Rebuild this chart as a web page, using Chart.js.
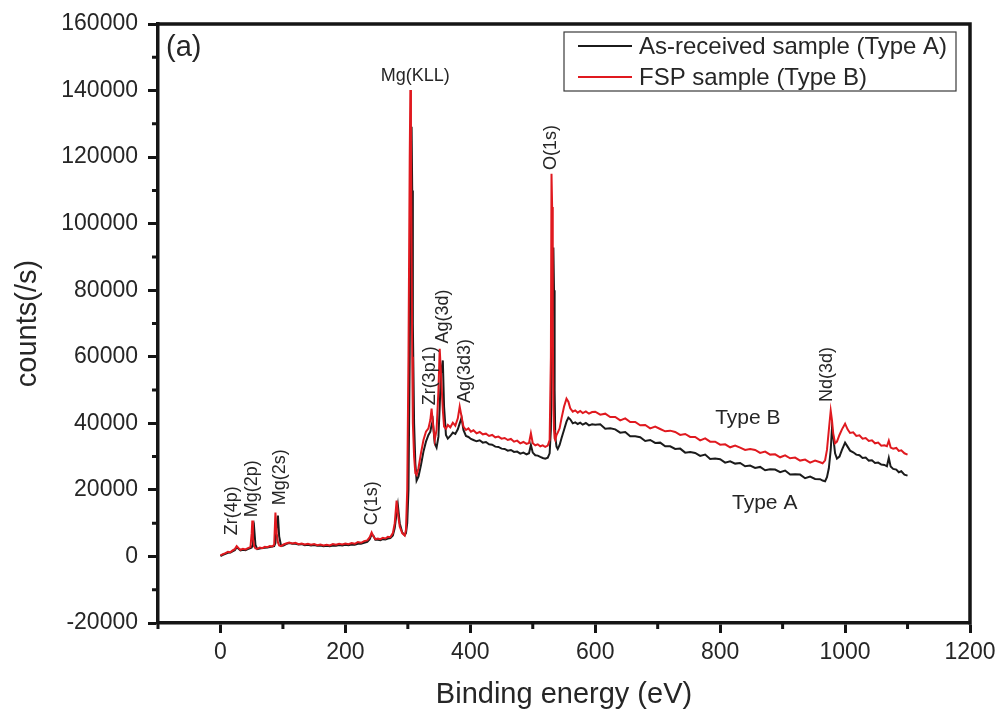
<!DOCTYPE html>
<html>
<head>
<meta charset="utf-8">
<title>XPS survey</title>
<script src="https://cdn.jsdelivr.net/npm/chart.js@4.4.1/dist/chart.umd.min.js"></script>
<style>
    html, body { margin: 0; padding: 0; background: #ffffff; }
    #chartXps { display: block; }
</style>
</head>
<body>
<canvas id="chartXps" width="998" height="718"></canvas>
<script>
// 1. DATA SPEKTRUM (binding energy dalam eV, intensitas dalam counts/s)
const energi = [
    0, 4, 8, 12, 16, 20, 23, 26, 29, 32,
    36, 40, 44, 48, 50, 51, 52, 54, 56, 59,
    63, 67, 71, 75, 79, 83, 86, 88, 90, 92,
    94, 97, 101, 105, 110, 115, 120, 125, 130, 135,
    140, 145, 150, 155, 160, 165, 170, 175, 180, 185,
    190, 195, 200, 205, 210, 215, 220, 225, 230, 235,
    239, 242, 245, 248, 252, 256, 260, 264, 268, 272,
    276, 279, 282, 284, 287, 291, 295, 297, 299, 301,
    303, 304, 305, 306, 307, 308, 310, 312, 314, 317,
    321, 325, 329, 333, 336, 338, 340, 343, 346, 349,
    351, 353, 356, 358, 361, 364, 368, 372, 376, 380,
    383, 386, 389, 393, 397, 401, 405, 410, 415, 420,
    425, 430, 435, 440, 445, 450, 455, 460, 465, 470,
    475, 480, 485, 490, 494, 497, 500, 504, 508, 512,
    516, 520, 524, 527, 529, 530, 531, 532, 533, 534,
    535, 536, 538, 540, 543, 546, 550, 554, 557, 560,
    564, 568, 572, 576, 580, 585, 590, 595, 600, 608,
    616, 624, 632, 640, 648, 656, 664, 672, 680, 688,
    696, 704, 712, 720, 728, 736, 744, 752, 760, 768,
    776, 784, 792, 800, 808, 816, 824, 832, 840, 848,
    856, 864, 872, 880, 888, 896, 904, 912, 920, 928,
    936, 944, 952, 960, 964, 968, 971, 974, 977, 979,
    981, 984, 987, 991, 995, 1000, 1004, 1008, 1013, 1018,
    1023, 1028, 1033, 1038, 1043, 1048, 1053, 1058, 1063, 1067,
    1070, 1073, 1077, 1082, 1086, 1090, 1095, 1100
];

// As-received sample (Type A)
const countsTypeA = [
    100, 500, 800, 1100, 1200, 1600, 1900, 2700, 2300, 1800,
    2000, 1900, 2200, 2500, 2700, 3200, 6000, 8400, 3500, 2200,
    2400, 2500, 2600, 2700, 2800, 3000, 3100, 4000, 9000, 12300,
    6000, 3200, 3300, 3700, 4000, 3800, 3800, 3600, 3700, 3400,
    3500, 3300, 3400, 3200, 3300, 3100, 3200, 3100, 3300, 3200,
    3400, 3300, 3500, 3400, 3600, 3500, 3800, 3800, 4100, 4400,
    5200, 6600, 6200, 5000, 5000, 4900, 5200, 5100, 5400, 5500,
    6300, 8500, 13000, 15500, 10000, 7200, 6400, 7000, 10000, 20000,
    60000, 95000, 120000, 129100, 110000, 70000, 40000, 28000, 22800, 24000,
    27500, 31500, 34500, 36500, 37500, 39500, 40800, 34000, 32700, 36000,
    45000, 55000, 58900, 45000, 36500, 35400, 36200, 37200, 36800, 38200,
    40000, 41700, 38000, 36200, 35900, 35300, 35000, 34600, 34900, 34200,
    34400, 33700, 33600, 33000, 32900, 32400, 32300, 31800, 32000, 31400,
    31500, 30900, 31200, 30700, 31000, 33500, 31200, 30400, 30300, 29900,
    29600, 29400, 29700, 31000, 38000, 55000, 75000, 88000, 92800, 80000,
    50000, 36000, 33000, 32300, 33500, 35500, 38000, 40500, 41700, 41200,
    40000, 40300, 39800, 40200, 39600, 40100, 39400, 39700, 39600, 39700,
    38400, 38500, 38200, 37200, 37400, 36100, 36100, 35800, 34700, 35000,
    34100, 34200, 33100, 33100, 32300, 32400, 31200, 31400, 31100, 30200,
    30600, 29300, 29400, 29200, 28200, 28600, 27900, 28100, 27100, 27300,
    26600, 26900, 25900, 26200, 26100, 25300, 25800, 24600, 24700, 24600,
    23500, 24000, 23300, 23200, 22800, 22600, 23800, 26500, 32000, 38400,
    36000, 31000, 29400, 30000, 32000, 34200, 33000, 31800, 31300, 30600,
    30400, 29600, 29700, 28800, 28900, 28100, 28200, 27600, 27500, 27100,
    29600, 27000, 26300, 26100, 25300, 25600, 24600, 24300
];

// FSP sample (Type B)
const countsTypeB = [
    300, 700, 1000, 1400, 1300, 1900, 2200, 3100, 2500, 2000,
    2300, 2100, 2500, 2800, 7000, 10800, 5500, 3000, 2400, 2300,
    2700, 2500, 2900, 2800, 3100, 3000, 3500, 13200, 7000, 4200,
    3300, 3100, 3600, 3900, 4200, 3900, 4100, 3700, 3900, 3600,
    3800, 3500, 3700, 3400, 3600, 3300, 3500, 3300, 3700, 3500,
    3800, 3600, 3900, 3700, 4000, 3800, 4300, 4100, 4600, 4800,
    5800, 7200, 6000, 5200, 5400, 5200, 5600, 5400, 5900, 5800,
    7000, 10000, 16800, 13000, 9000, 7000, 6300, 8000, 20000, 60000,
    120000, 140200, 125000, 90000, 60000, 40000, 30000, 25000, 24500, 26500,
    31000, 35000, 37500, 38500, 41000, 44400, 40000, 35000, 38000, 50000,
    62400, 55000, 44000, 39000, 38400, 39500, 38800, 40200, 39300, 41500,
    45000, 42000, 39000, 38000, 38500, 37500, 37900, 37000, 37400, 36700,
    36900, 36200, 36500, 35800, 36000, 35400, 35600, 35000, 35300, 34500,
    34800, 34000, 34400, 33800, 34100, 37000, 34000, 33400, 33700, 33100,
    33400, 32900, 33300, 35000, 60000, 115000, 105000, 70000, 45000, 38000,
    35500, 35000, 36500, 37200, 38500, 41500, 45000, 47400, 46500, 44500,
    43500, 43900, 43200, 43700, 43100, 43600, 42900, 43400, 43500, 42600,
    42900, 41900, 41900, 40900, 41500, 40400, 40400, 39400, 39500, 38500,
    39000, 38300, 37600, 37800, 37400, 36500, 36800, 35900, 35900, 34900,
    35500, 34500, 34500, 33600, 33700, 32800, 33300, 32700, 32000, 32300,
    32000, 31100, 31500, 30600, 30700, 29800, 30400, 29500, 29700, 28800,
    29100, 28200, 28800, 28300, 28000, 28900, 32000, 38000, 43800, 41000,
    37000, 34000, 34500, 36500, 38200, 39900, 38200, 37100, 37300, 36200,
    36400, 35400, 35600, 34700, 34900, 34000, 34200, 33300, 33400, 33100,
    34800, 32700, 32400, 32600, 31700, 31900, 31000, 30600
];

// Label tick sumbu
const energiTicks = [0, 200, 400, 600, 800, 1000, 1200];
const countTicks = [-20000, 0, 20000, 40000, 60000, 80000, 100000, 120000, 140000, 160000];

// Label puncak: teks vertikal, mulai dari titik (e, c)
const labelPuncak = [
    { teks: 'Zr(4p)', e: 18, c: 6400 },
    { teks: 'Mg(2p)', e: 50, c: 11800 },
    { teks: 'Mg(2s)', e: 95, c: 15400 },
    { teks: 'C(1s)', e: 242, c: 9400 },
    { teks: 'Zr(3p1)', e: 335, c: 45400 },
    { teks: 'Ag(3d)', e: 356, c: 64000 },
    { teks: 'Ag(3d3)', e: 391, c: 46100 },
    { teks: 'O(1s)', e: 529, c: 116100 },
    { teks: 'Nd(3d)', e: 971, c: 46400 }
];

const warnaA = '#1b1b1b';
const warnaB = '#e0191f';
const warnaSumbu = '#151515';
const warnaTeks = '#262626';
const FONT = "'Liberation Sans', Arial, Helvetica, sans-serif";

Chart.defaults.font.family = FONT;
Chart.defaults.color = warnaTeks;

// 2. PLUGIN: minor tick, bingkai atas/kanan, legenda dan anotasi
const dekorasi = {
    id: 'dekorasi',
    afterDraw(chart) {
        const { ctx, chartArea: a, scales: { x, y } } = chart;
        ctx.save();

        // minor tick
        ctx.strokeStyle = warnaSumbu;
        ctx.lineWidth = 3;
        ctx.beginPath();
        for (let e = -100; e <= 1100; e += 200) {
            const px = x.getPixelForValue(e);
            ctx.moveTo(px, a.bottom);
            ctx.lineTo(px, a.bottom + 6);
        }
        for (let c = -10000; c <= 150000; c += 20000) {
            const py = y.getPixelForValue(c);
            ctx.moveTo(a.left, py);
            ctx.lineTo(a.left - 6, py);
        }
        ctx.stroke();

        // bingkai atas dan kanan
        ctx.lineWidth = 3.5;
        ctx.beginPath();
        ctx.moveTo(a.left - 1.5, a.top);
        ctx.lineTo(a.right, a.top);
        ctx.lineTo(a.right, a.bottom + 1.5);
        ctx.stroke();

        // legenda
        const lx = a.right - 406, ly = a.top + 8;
        ctx.lineWidth = 1.2;
        ctx.strokeStyle = '#3a3a3a';
        ctx.strokeRect(lx, ly, 392, 59);
        const itemLegenda = [
            { teks: 'As-received sample (Type A)', warna: warnaA, dy: 14 },
            { teks: 'FSP sample (Type B)', warna: warnaB, dy: 45 }
        ];
        ctx.font = `24px ${FONT}`;
        ctx.textAlign = 'left';
        ctx.textBaseline = 'middle';
        itemLegenda.forEach(it => {
            ctx.strokeStyle = it.warna;
            ctx.lineWidth = 2;
            ctx.beginPath();
            ctx.moveTo(lx + 14, ly + it.dy);
            ctx.lineTo(lx + 68, ly + it.dy);
            ctx.stroke();
            ctx.fillStyle = warnaTeks;
            ctx.fillText(it.teks, lx + 75, ly + it.dy + 1);
        });

        // (a)
        ctx.font = `29px ${FONT}`;
        ctx.fillText('(a)', a.left + 8, a.top + 24);

        // label tipe
        ctx.font = `21px ${FONT}`;
        ctx.fillText('Type B', x.getPixelForValue(792), y.getPixelForValue(41600));
        ctx.fillText('Type A', x.getPixelForValue(819), y.getPixelForValue(16000));

        // label puncak
        ctx.font = `18px ${FONT}`;
        ctx.textAlign = 'center';
        ctx.fillText('Mg(KLL)', x.getPixelForValue(312), y.getPixelForValue(144400));

        ctx.textAlign = 'left';
        labelPuncak.forEach(lb => {
            ctx.save();
            ctx.translate(x.getPixelForValue(lb.e), y.getPixelForValue(lb.c));
            ctx.rotate(-Math.PI / 2);
            ctx.fillText(lb.teks, 0, 0);
            ctx.restore();
        });

        ctx.restore();
    }
};

// 3. RENDER CHART
const ctx = document.getElementById('chartXps').getContext('2d');
new Chart(ctx, {
    type: 'line',
    data: {
        datasets: [
            {
                label: 'As-received sample (Type A)',
                data: energi.map((e, i) => ({ x: e, y: countsTypeA[i] })),
                borderColor: warnaA,
                borderWidth: 2,
                pointRadius: 0,
                tension: 0,
                order: 1
            },
            {
                label: 'FSP sample (Type B)',
                data: energi.map((e, i) => ({ x: e, y: countsTypeB[i] })),
                borderColor: warnaB,
                borderWidth: 2,
                pointRadius: 0,
                tension: 0,
                order: 0
            }
        ]
    },
    options: {
        responsive: false,
        animation: false,
        layout: { padding: { top: 24, right: 28, left: 0, bottom: 0 } },
        plugins: { legend: { display: false }, tooltip: { enabled: false } },
        scales: {
            x: {
                type: 'linear',
                min: -100,
                max: 1200,
                afterFit: s => { s.height = 95; s.paddingLeft = 0; s.paddingRight = 0; },
                afterBuildTicks: s => { s.ticks = energiTicks.map(v => ({ value: v })); },
                ticks: { font: { size: 23 }, color: warnaTeks, padding: 6, maxRotation: 0, autoSkip: false, callback: v => String(v) },
                grid: { drawOnChartArea: false, tickLength: 10, tickWidth: 3, tickColor: warnaSumbu },
                border: { width: 3.5, color: warnaSumbu },
                title: { display: true, text: 'Binding energy (eV)', font: { size: 29 }, color: warnaTeks, padding: { top: 0, bottom: 6 } }
            },
            y: {
                min: -20000,
                max: 160000,
                afterFit: s => { s.width = 158; s.paddingTop = 0; s.paddingBottom = 0; },
                afterBuildTicks: s => { s.ticks = countTicks.map(v => ({ value: v })); },
                ticks: { font: { size: 23 }, color: warnaTeks, padding: 10, autoSkip: false, callback: v => String(v) },
                grid: { drawOnChartArea: false, tickLength: 10, tickWidth: 3, tickColor: warnaSumbu },
                border: { width: 3.5, color: warnaSumbu },
                title: { display: true, text: 'counts(/s)', font: { size: 29 }, color: warnaTeks, padding: { top: 11, bottom: 0 } }
            }
        }
    },
    plugins: [dekorasi]
});
</script>
</body>
</html>
